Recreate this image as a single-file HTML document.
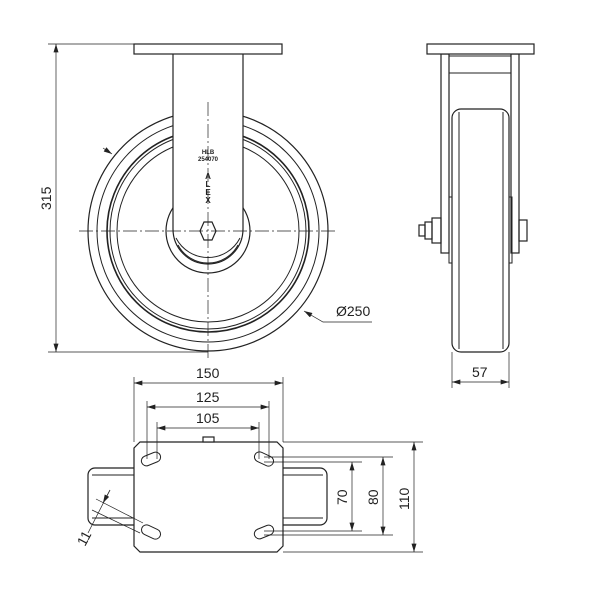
<!DOCTYPE html>
<html><head><meta charset="utf-8"><style>
html,body{margin:0;padding:0;background:#fff}
svg{display:block}
text{font-family:"Liberation Sans",sans-serif;fill:#222}
</style></head><body>
<svg width="600" height="600" viewBox="0 0 600 600" xmlns="http://www.w3.org/2000/svg">
<defs>
<marker id="a" viewBox="0 0 10 6" refX="10" refY="3" markerWidth="9" markerHeight="5" orient="auto-start-reverse" markerUnits="userSpaceOnUse"><path d="M0,0 L10,3 L0,6 z" fill="#222"/></marker>
</defs>
<g fill="none" stroke="#222" stroke-width="1.2">
<circle cx="208" cy="231" r="120"/>
<circle cx="208" cy="231" r="111" stroke-width="1"/>
<circle cx="208" cy="231" r="101" stroke-width="1.6"/>
<circle cx="208" cy="231" r="98" stroke-width="1"/>
<circle cx="208" cy="231" r="91" stroke-width="1"/>
<rect x="173" y="54" width="70" height="175" fill="#fff" stroke="none"/>
<circle cx="208" cy="231" r="42" fill="#fff"/>
<path d="M173,54 V229 A35,35 0 0 0 243,229 V54" fill="#fff"/>
<path d="M178,245 A34,34 0 0 0 238,245" stroke-width="1"/>
<path d="M176,238 A36,36 0 0 0 240,238" stroke-width="1"/>
<rect x="134" y="44" width="148" height="10" fill="#fff"/>
<polygon points="200,231 204,222 212,222 216,231 212,240 204,240" fill="#fff"/>
</g>
<g stroke="#222" stroke-width="0.7" fill="none">
<path d="M79,231 H336" stroke-dasharray="14,3,2,3"/>
<path d="M208,102 V360" stroke-dasharray="14,3,2,3"/>
<path d="M48,44 H134 M48,352 H208"/>
<path d="M56,44 V352" marker-start="url(#a)" marker-end="url(#a)"/>
<path d="M103,148 L112,154" marker-end="url(#a)"/>
<path d="M372,322 H323 L304,311" marker-end="url(#a)"/>
</g>
<text x="0" y="0" font-size="14" transform="translate(51,210) rotate(-90)">315</text>
<text x="336" y="316" font-size="14">Ø250</text>
<text x="208" y="154" font-size="6" font-weight="bold" text-anchor="middle">HLB</text>
<text x="208" y="161" font-size="6" font-weight="bold" text-anchor="middle">254070</text>
<g font-size="8" font-weight="bold" text-anchor="middle">
<text x="208" y="179">A</text>
<text x="208" y="187">L</text>
<text x="208" y="195">E</text>
<text x="208" y="203">X</text>
</g>

<g fill="none" stroke="#222" stroke-width="1.2">
<rect x="441" y="54" width="8" height="199"/>
<rect x="511" y="54" width="8" height="199"/>
<path d="M449,73 H511 M449,56 H511" stroke-width="1"/>
<rect x="427" y="44" width="107" height="10" fill="#fff"/>
<rect x="449" y="197" width="3" height="66" stroke-width="1"/>
<rect x="509" y="197" width="3" height="66" stroke-width="1"/>
<rect x="452" y="109" width="57" height="243" rx="9" fill="#fff"/>
<path d="M459,112 V349 M503,112 V349" stroke-width="1"/>
<rect x="432" y="218" width="9" height="25"/>
<rect x="425" y="222" width="7" height="17"/>
<rect x="419" y="225" width="6" height="11"/>
<rect x="519" y="220" width="8" height="21"/>
</g>
<g stroke="#222" stroke-width="0.7" fill="none">
<path d="M452,352 V388 M509,352 V388"/>
<path d="M452,382 H509" marker-start="url(#a)" marker-end="url(#a)"/>
</g>
<text x="472" y="377" font-size="14">57</text>

<g fill="none" stroke="#222" stroke-width="1.2">
<rect x="88" y="468" width="60" height="57" rx="7"/>
<rect x="270" y="468" width="57" height="57" rx="7"/>
<path d="M92,475 H134 M92,518 H134 M283,475 H323 M283,518 H323" stroke-width="1"/>
<polygon points="140,442 277,442 283,448 283,546 277,552 140,552 134,546 134,448" fill="#fff"/>
<rect x="203" y="437" width="11" height="5" fill="#fff"/>
<g stroke-width="1">
<rect x="-10" y="-5" width="20" height="10" rx="5" transform="translate(151,459) rotate(-22)"/>
<rect x="-10" y="-5" width="20" height="10" rx="5" transform="translate(264,459) rotate(25)"/>
<rect x="-10" y="-5" width="20" height="10" rx="5" transform="translate(151,532) rotate(25)"/>
<rect x="-10" y="-5" width="20" height="10" rx="5" transform="translate(264,532) rotate(-22)"/>
</g>
</g>
<g stroke="#222" stroke-width="0.7" fill="none">
<path d="M134,377 V442 M283,377 V442"/>
<path d="M134,383 H283" marker-start="url(#a)" marker-end="url(#a)"/>
<path d="M147,401 V459 M269,401 V459"/>
<path d="M147,407 H269" marker-start="url(#a)" marker-end="url(#a)"/>
<path d="M157,422 V459 M259,422 V459"/>
<path d="M157,428 H259" marker-start="url(#a)" marker-end="url(#a)"/>
<path d="M283,442 H423 M283,552 H423"/>
<path d="M264,457 H393 M264,535 H393"/>
<path d="M264,462 H362 M264,531 H362"/>
<path d="M352,462 V531" marker-start="url(#a)" marker-end="url(#a)"/>
<path d="M383,457 V535" marker-start="url(#a)" marker-end="url(#a)"/>
<path d="M414,442 V552" marker-start="url(#a)" marker-end="url(#a)"/>
<path d="M96,499 L143,523 M92,510 L140,533"/>
<path d="M110,490 L88,533"/>
<path d="M110,490 L103,503" marker-end="url(#a)"/>
</g>
<text x="196" y="378" font-size="14">150</text>
<text x="196" y="402" font-size="14">125</text>
<text x="196" y="423" font-size="14">105</text>
<text x="0" y="0" font-size="14" transform="translate(347,505) rotate(-90)">70</text>
<text x="0" y="0" font-size="14" transform="translate(378,505) rotate(-90)">80</text>
<text x="0" y="0" font-size="14" transform="translate(409,510) rotate(-90)">110</text>
<text x="0" y="0" font-size="14" transform="translate(85,547) rotate(-62)">11</text>
</svg>
</body></html>
